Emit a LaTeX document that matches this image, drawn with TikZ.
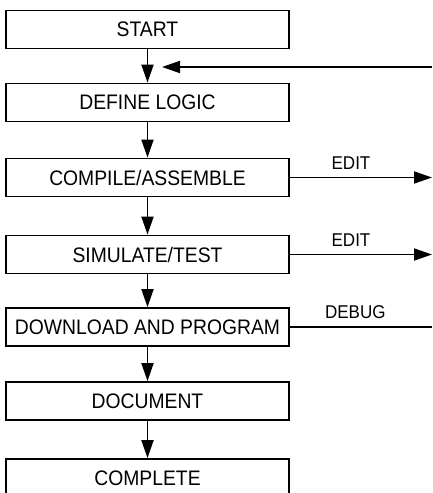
\documentclass[tikz,border=0pt]{standalone}
\usepackage{fontspec}
\setmainfont{Liberation Sans}[FakeStretch=0.92]
\usetikzlibrary{arrows.meta}

\begin{document}
\begin{tikzpicture}[x=1pt,y=1pt,
		stage/.style={draw, line width=1.8pt, minimum width=283pt, minimum height=38pt,
			inner sep=0pt, font=\fontsize{21}{23}\selectfont},
		flow/.style={line width=1.8pt, -{Triangle[length=18pt,width=12pt]}},
		tag/.style={above=6pt, inner sep=1pt, font=\fontsize{18.5}{20}\selectfont}]
			\useasboundingbox (0,0) rectangle (432,493);

			\node[stage] (start) at (147.5,463.5) {START};
			\node[stage] (logic) at (147.5,390.5) {DEFINE LOGIC};
			\node[stage] (compile) at (147.5,315.5) {COMPILE/ASSEMBLE};
			\node[stage] (simulate) at (147.5,238.5) {SIMULATE/TEST};
			\node[stage] (download) at (147.5,166) {DOWNLOAD AND PROGRAM};
			\node[stage] (document) at (147.5,92) {DOCUMENT};
			\node[stage] (complete) at (147.5,15) {COMPLETE};

			\coordinate (backin) at (432,426);
			\coordinate (backtip) at (162,426);
			\coordinate (editA) at (432,315.5);
			\coordinate (editB) at (432,238.5);
			\coordinate (debug) at (432,166);

			\draw[flow] (start) -- (logic);
			\draw[flow] (logic) -- (compile);
			\draw[flow] (compile) -- (simulate);
			\draw[flow] (simulate) -- (download);
			\draw[flow] (download) -- (document);
			\draw[flow] (document) -- (complete);

			\draw[flow] (backin) -- (backtip);
			\draw[flow] (compile.east) -- node[tag, pos=0.43] {EDIT} (editA);
			\draw[flow] (simulate.east) -- node[tag, pos=0.43] {EDIT} (editB);
			\draw[line width=1.8pt] (download.east) -- node[tag, pos=0.46] {DEBUG} (debug);
		\end{tikzpicture}
\end{document}
